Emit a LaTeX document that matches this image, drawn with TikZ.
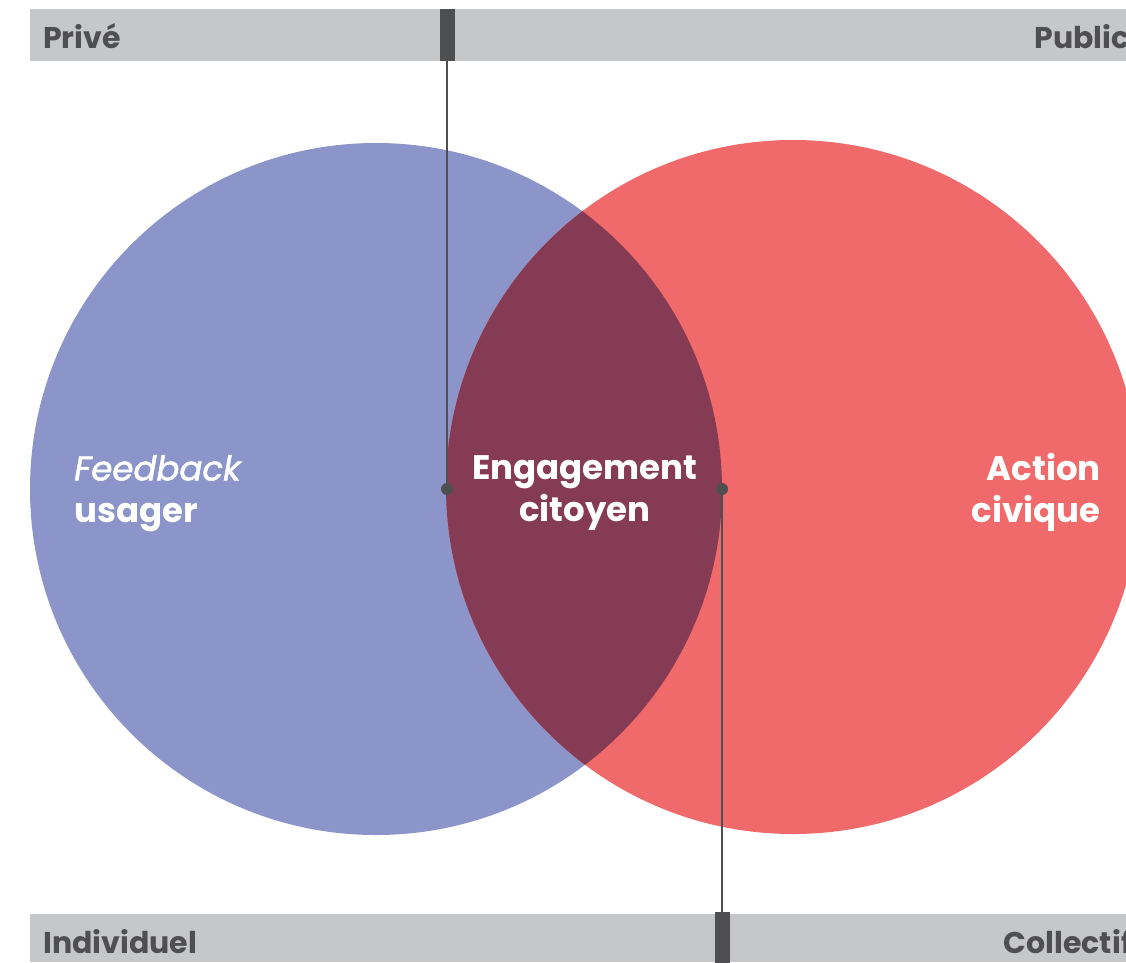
\documentclass[tikz,border=0pt]{standalone}
\usepackage{fontspec}
\setmainfont{Poppins}
\usetikzlibrary{positioning}

\definecolor{barGray}{HTML}{C6C7C9}
\definecolor{inkGray}{HTML}{4F4F51}
\definecolor{userBlue}{HTML}{8C95C9}
\definecolor{civicRed}{HTML}{F0696B}
\definecolor{mixPlum}{HTML}{853B54}

\tikzset{
  marker/.style={fill=inkGray, minimum width=15pt, minimum height=52pt, inner sep=0pt},
  dot/.style={circle, fill=inkGray, minimum size=12pt, inner sep=0pt},
  link/.style={draw=inkGray, line width=2pt},
  barlabel/.style={text=inkGray, font=\fontsize{30}{36}\selectfont\bfseries, inner sep=0pt},
  bigtext/.style={text=white, font=\fontsize{34}{42}\selectfont\bfseries, inner sep=0pt}
}

\begin{document}
\begin{tikzpicture}[x=1pt, y=-1pt]
\useasboundingbox (0,0) rectangle (1126,962);

% bars
\fill[barGray] (30,9) rectangle (1140,61);
\fill[barGray] (30,914) rectangle (1140,962);

% circles
\fill[userBlue] (376,489) circle[radius=346pt];
\fill[civicRed] (793,487) circle[radius=347pt];
\begin{scope}
  \clip (376,489) circle[radius=346pt];
  \fill[mixPlum] (793,487) circle[radius=347pt];
\end{scope}

% markers and dots
\node[marker] (priveMark) at (447,35) {};
\node[marker] (collMark) at (722,938) {};
\node[dot] (leftDot) at (447,489) {};
\node[dot] (rightDot) at (722,489) {};
\draw[link] (priveMark.south) -- (leftDot.center);
\draw[link] (collMark.north) -- (rightDot.center);

% bar labels
\node[barlabel, anchor=base west] (prive) at (43,48) {Privé};
\node[barlabel, anchor=base east] (public) at (1130,48) {Public};
\node[barlabel, anchor=base west] (indiv) at (43,953) {Individuel};
\node[barlabel, anchor=base east] (collectif) at (1132,953) {Collectif};

% circle labels
\node[bigtext, align=left, anchor=north west] (feedback) at (74,455)
  {{\mdseries\itshape\addfontfeatures{FakeBold=1.6}Feedback}\\usager};
\node[bigtext, align=center, anchor=north] (engage) at (585,455)
  {Engagement\\citoyen};
\node[bigtext, align=right, anchor=north east] (action) at (1101,453)
  {Action\\civique};

\end{tikzpicture}
\end{document}
